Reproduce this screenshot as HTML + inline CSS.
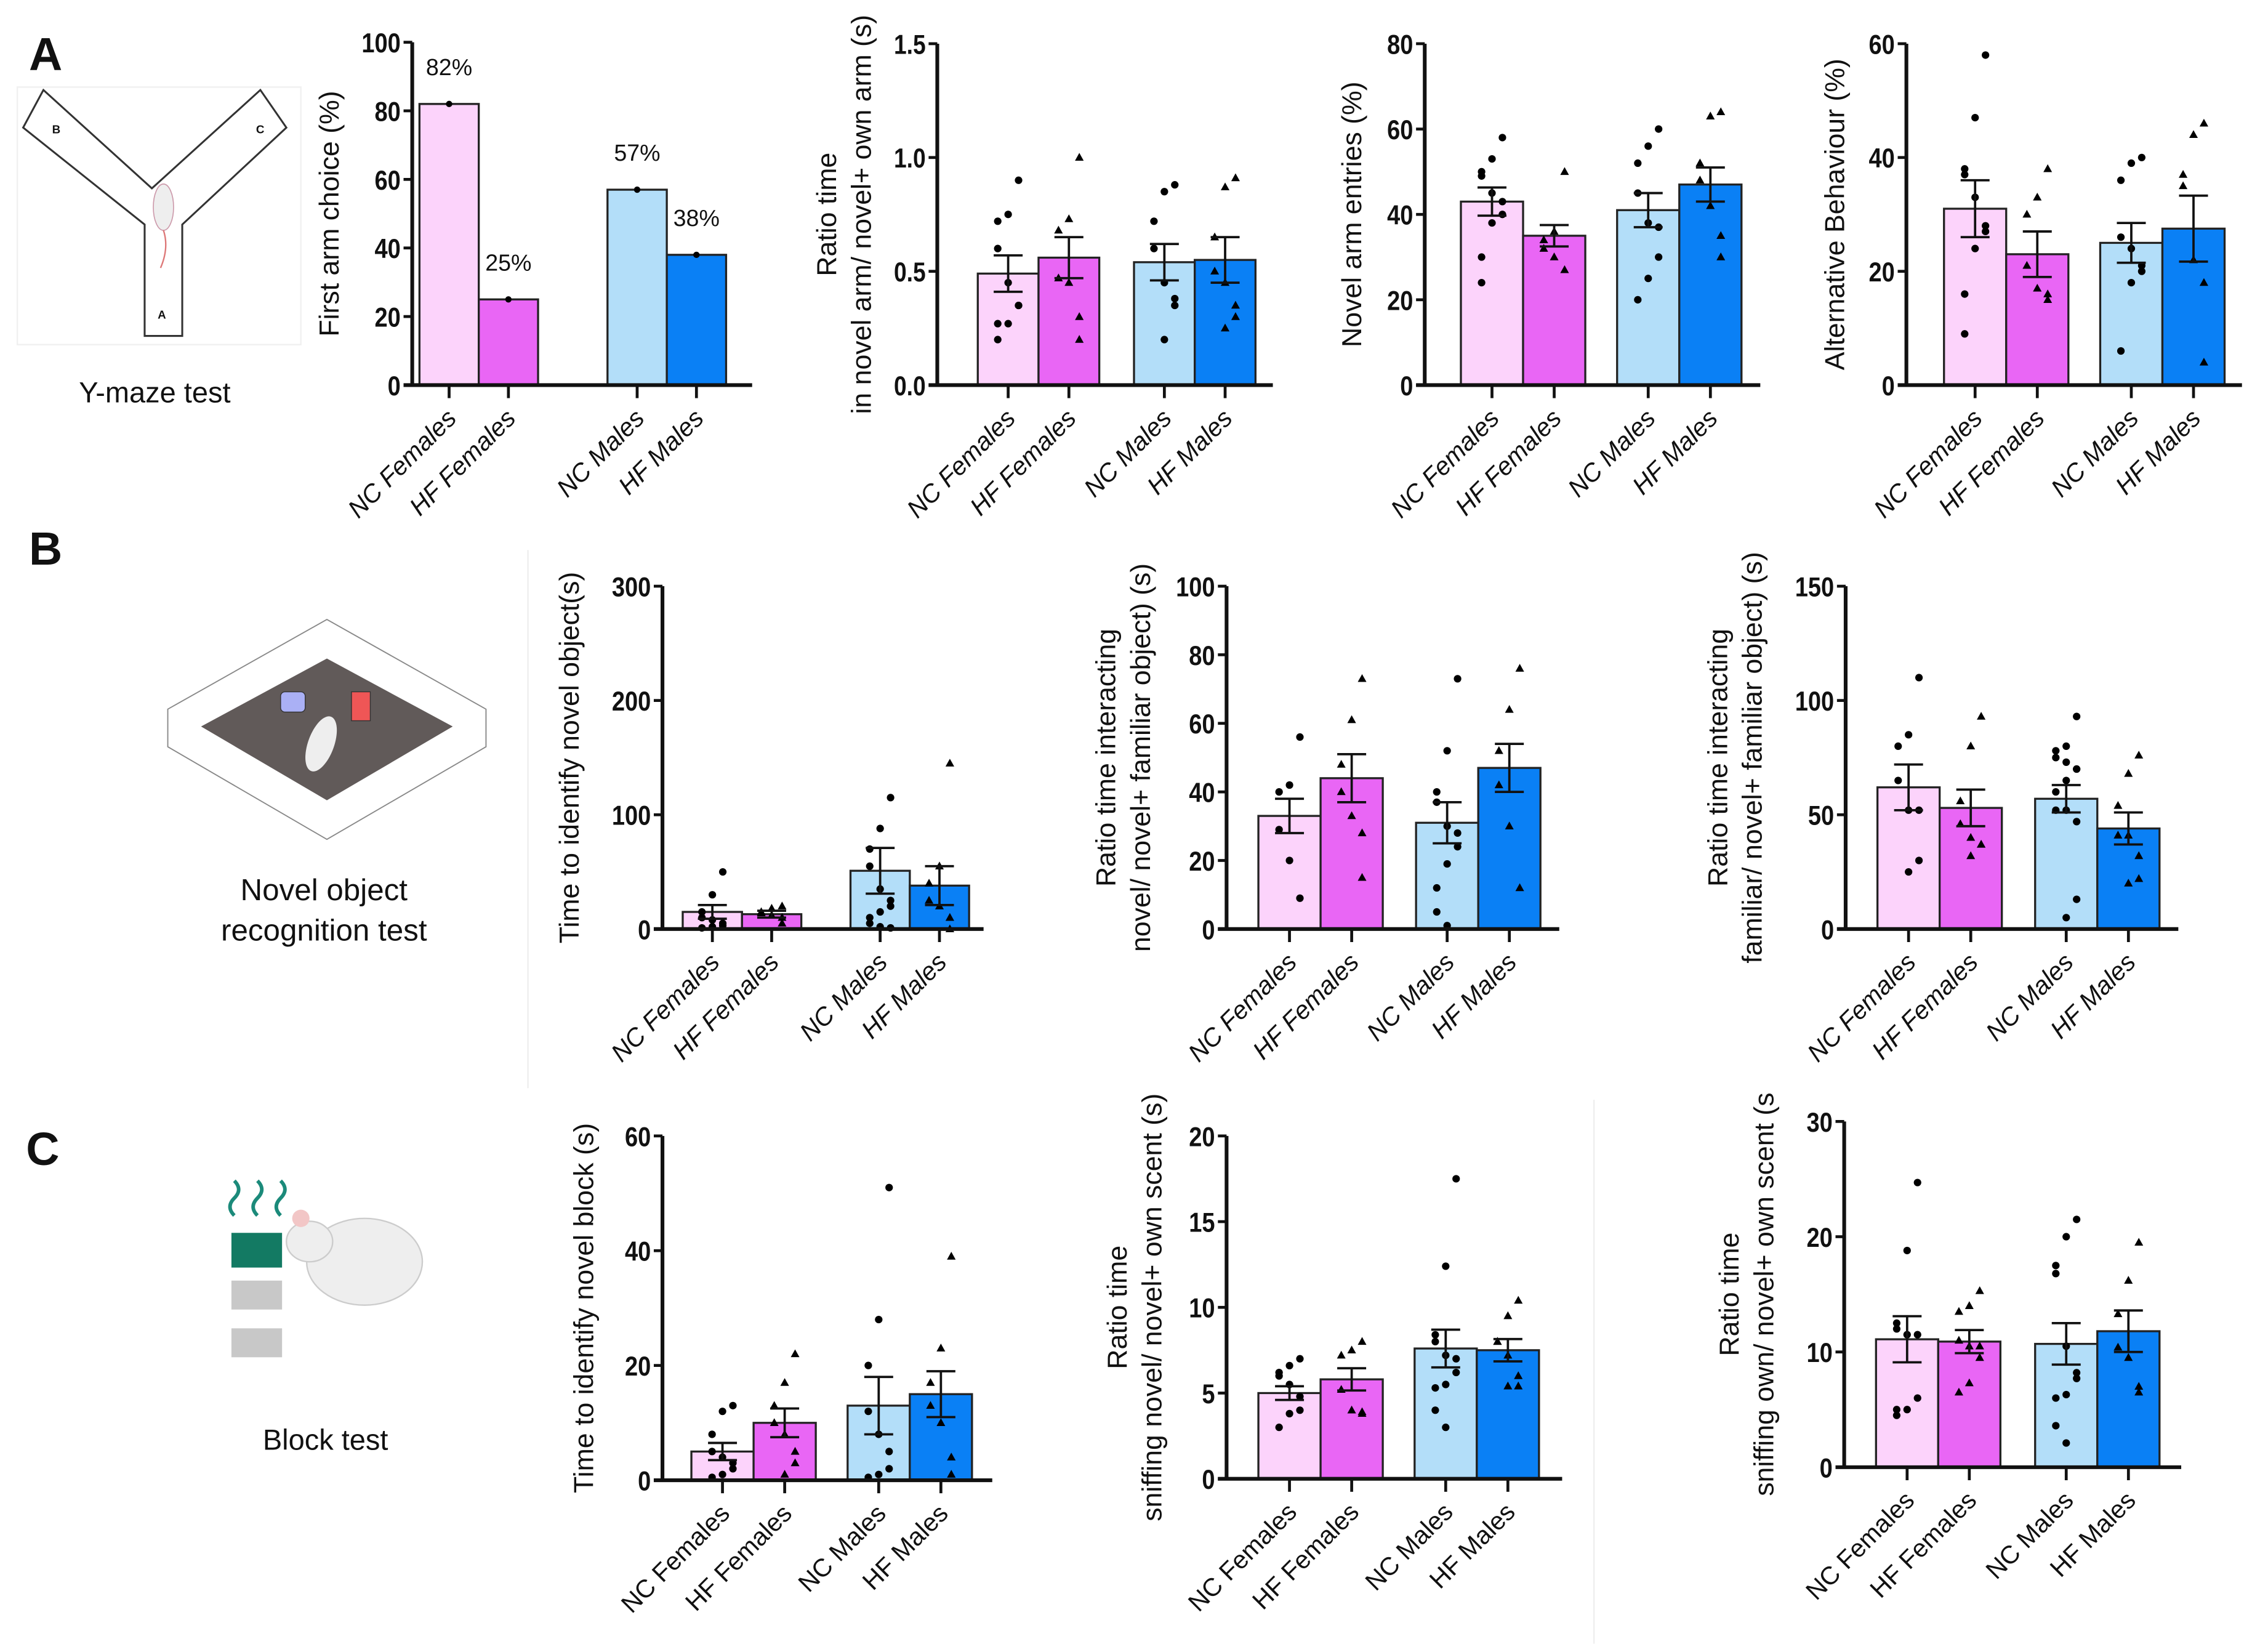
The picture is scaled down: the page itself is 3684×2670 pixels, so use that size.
<!DOCTYPE html>
<html><head><meta charset="utf-8"><style>
html,body{margin:0;padding:0;background:#fff}
svg{display:block}
text{font-family:"Liberation Sans",sans-serif;fill:#111}
.tick{font-weight:bold;font-size:19px}
.cat{font-size:17.5px}
.ttl{font-size:19px}
</style></head><body>
<svg id="fig" width="3684" height="2670" viewBox="0 0 1568 1136" xmlns="http://www.w3.org/2000/svg">
<g>
<text x="20" y="48" style="font-size:32px;font-weight:bold">A</text>
<text x="20" y="390" style="font-size:32px;font-weight:bold">B</text>
<text x="18" y="805" style="font-size:32px;font-weight:bold">C</text>
</g>
<g>
<rect x="12" y="60" width="196" height="178" fill="#fff" stroke="#f0f0f0"/>
<polygon points="30,62 105,130 180,62 198,88 126,155 126,232 100,232 100,155 16,88" fill="#fff" stroke="#333" stroke-width="1.3"/>
<text x="36" y="92" style="font-size:8px;font-weight:bold">B</text>
<text x="177" y="92" style="font-size:8px;font-weight:bold">C</text>
<text x="109" y="220" style="font-size:8px;font-weight:bold">A</text>
<ellipse cx="113" cy="143" rx="7" ry="16" fill="#eee" stroke="#c9a" stroke-width="0.7"/>
<path d="M113,159 q4,12 -2,26" stroke="#d77" fill="none"/>
<text x="107" y="278" text-anchor="middle" style="font-size:20px">Y-maze test</text>
</g>
<g>
<line x1="365" y1="380" x2="365" y2="752" stroke="#eee"/>
<polygon points="226,428 336,490 336,516 226,580 116,516 116,490" fill="#fff" stroke="#888" stroke-width="0.8"/>
<polygon points="226,455 313,502 226,553 139,502" fill="#615a59"/>
<rect x="194" y="478" width="17" height="14" rx="3" fill="#aab0f5" stroke="#333" stroke-width="0.6"/>
<rect x="243" y="478" width="13" height="20" fill="#ef5656" stroke="#333" stroke-width="0.6"/>
<ellipse cx="222" cy="514" rx="9" ry="20" fill="#eee" transform="rotate(20 222 514)"/>
<text x="224" y="622" text-anchor="middle" style="font-size:21px">Novel object</text>
<text x="224" y="650" text-anchor="middle" style="font-size:21px">recognition test</text>
</g>
<g>
<path d="M162,840 q-6,-6 0,-12 q6,-6 0,-12 M178,840 q-6,-6 0,-12 q6,-6 0,-12 M194,840 q-6,-6 0,-12 q6,-6 0,-12" stroke="#1b8a7a" stroke-width="2.5" fill="none"/>
<rect x="160" y="852" width="35" height="24" fill="#137a63"/>
<rect x="160" y="885" width="35" height="20" fill="#c8c8c8"/>
<rect x="160" y="918" width="35" height="20" fill="#c8c8c8"/>
<ellipse cx="252" cy="872" rx="40" ry="30" fill="#eee" stroke="#ccc"/>
<ellipse cx="214" cy="858" rx="16" ry="14" fill="#eee" stroke="#ccc"/>
<circle cx="208" cy="842" r="6" fill="#f2c6c6"/>
<text x="225" y="1002" text-anchor="middle" style="font-size:20px">Block test</text>
</g>
<line x1="1102" y1="760" x2="1102" y2="1136" stroke="#eee"/>
<g id="charts"></g>
</svg>
<script>
// ---- data ----
const categories = ["NC Females","HF Females","NC Males","HF Males"];
const colors = ["#fcd3fb","#e966f5","#b3def9","#0a80f5"];

const a1Means = [82,25,57,38];
const a1Labels = ["82%","25%","57%","38%"];

const a2Means = [0.49,0.56,0.54,0.55];
const a2Sem = [0.08,0.09,0.08,0.10];
const a2Pts = [[0.9,0.75,0.72,0.6,0.45,0.35,0.35,0.27,0.27,0.2],[1.0,0.73,0.68,0.47,0.45,0.3,0.2],[0.88,0.85,0.72,0.6,0.45,0.38,0.35,0.2],[0.91,0.87,0.65,0.5,0.45,0.35,0.3,0.25]];

const a3Means = [43,35,41,47];
const a3Sem = [3.3,2.5,4,4];
const a3Pts = [[58,53,50,49,45,43,40,38,30,24],[50,36,34,32,30,27],[60,56,52,45,38,37,30,25,20],[64,63,52,48,42,35,30]];

const a4Means = [31,23,25,27.5];
const a4Sem = [5,4,3.5,5.8];
const a4Pts = [[58,47,38,37,33,28,27,24,16,9],[38,33,30,21,17,16,15],[40,39,36,26,24,21,20,18,6],[46,44,37,35,22,18,4]];

const b1Means = [15,13,51,38];
const b1Sem = [6,3,20,17];
const b1Pts = [[50,30,15,10,8,5,3,2,1],[20,18,15,14,12,10,5],[115,88,70,55,35,25,20,15,10,5,2,1],[145,55,40,25,20,10,0]];

const b2Means = [33,44,31,47];
const b2Sem = [5,7,6,7];
const b2Pts = [[56,42,40,29,20,9],[73,61,48,40,33,28,15],[73,52,40,37,30,28,24,19,12,5,1],[76,64,52,42,30,12]];

const b3Means = [62,53,57,44];
const b3Sem = [10,8,6,7];
const b3Pts = [[110,85,80,65,52,52,30,25],[93,80,56,46,40,37,37,32],[93,80,78,75,73,70,70,65,60,52,52,47,13,5],[76,68,54,41,41,32,22,20]];

const c1Means = [5,10,13,15];
const c1Sem = [1.5,2.5,5,4];
const c1Pts = [[13,12,8,5,4,3,2,1,0.5],[22,17,13,10,8,5,3,1],[51,28,20,12,8,5,2,1,0.5],[39,23,17,13,10,4,1]];

const c2Means = [5,5.8,7.6,7.5];
const c2Sem = [0.4,0.65,1.1,0.65];
const c2Pts = [[7,6.6,6.2,6,5.5,4.8,4,3.8,3],[8,7.5,7.2,5.2,4,3.9,3.8],[17.5,12.4,8.4,8,7.2,7,6.2,5.5,5.3,4,3],[10.4,9.5,8,8,7.2,6,5.4,5.4]];

const c3Means = [11.1,10.9,10.7,11.8];
const c3Sem = [2,1,1.8,1.8];
const c3Pts = [[24.7,18.8,12.5,12,11.5,11.5,6,5,5,4.5],[15.3,14,13.5,11,10.5,10.5,9.5,7.3,6.5],[21.5,20,17.5,16.8,10.5,8.2,7.7,6.3,6,3.6,2.1],[19.5,16.2,13.3,10.4,9.5,7,6.5]];

const yTicksA1=[0,20,40,60,80,100], yTicksA2=["0.0","0.5","1.0","1.5"], yTicksA3=[0,20,40,60,80], yTicksA4=[0,20,40,60];
const yTicksB1=[0,100,200,300], yTicksB2=[0,20,40,60,80,100], yTicksB3=[0,50,100,150];
const yTicksC1=[0,20,40,60], yTicksC2=[0,5,10,15,20], yTicksC3=[0,10,20,30];

const NS="http://www.w3.org/2000/svg";
const root=document.getElementById('charts');
function mk(tag,attrs,parent){const e=document.createElementNS(NS,tag);for(const k in attrs)e.setAttribute(k,attrs[k]);(parent||root).appendChild(e);return e;}

function chart(name,L,means,sem,pts,ticks,titles,italic,labels){
  const g=mk('g',{});
  
  
  const ymax=parseFloat(ticks[ticks.length-1]);
  const y=v=>L.y0-(v/ymax)*(L.y0-L.yt);
  const bw=L.bw, xs=[L.bx,L.bx+bw,L.bx+2*bw+L.gap,L.bx+3*bw+L.gap];
  means.forEach((m,i)=>{
    const r=mk('rect',{x:xs[i],y:y(m),width:bw,height:L.y0-y(m),fill:colors[i],stroke:'#222','stroke-width':1.4},g);
    
    
  });
  if(pts){pts.forEach((arr,i)=>{
    const cx=xs[i]+bw/2;
    arr.forEach((v,j)=>{
      const off=((j%3)-1)*8*(j%2?1:-1)*0.9;
      const px=cx+off, py=y(v);
      let p;
      if(i%2===0){p=mk('circle',{cx:px,cy:py,r:2.6,fill:'#000'},g);}
      else{p=mk('polygon',{points:`${px},${py-3.2} ${px-3},${py+2.2} ${px+3},${py+2.2}`,fill:'#000'},g);}
      
      
    });
  });}
  if(sem){sem.forEach((s,i)=>{
    const cx=xs[i]+bw/2;
    const e=mk('path',{d:`M${cx},${y(means[i]-s)}V${y(means[i]+s)}M${cx-10},${y(means[i]+s)}h20M${cx-10},${y(means[i]-s)}h20`,stroke:'#111','stroke-width':1.6,fill:'none'},g);
    
    
  });}
  if(labels){means.forEach((m,i)=>{
    const d=mk('circle',{cx:xs[i]+bw/2,cy:y(m),r:2.2,fill:'#000'},g);
    
    
    const t=mk('text',{x:xs[i]+bw/2,y:y(m)-20,'text-anchor':'middle',style:'font-size:16px'},g);
    t.textContent=labels[i];
    
    
  });}
  const ax=mk('path',{d:`M${L.ax},${L.yt}V${L.y0}M${L.ax-6},${L.y0}H${L.xe}`,stroke:'#111','stroke-width':2.6,fill:'none'},g);
  
  
  ticks.forEach(tv=>{
    const v=parseFloat(tv);
    mk('line',{x1:L.ax-6,x2:L.ax,y1:y(v),y2:y(v),stroke:'#111','stroke-width':2},g);
    const s=String(tv);
    const w=s.replace('.','').length*9+(s.includes('.')?4:0);
    const t=mk('text',{x:L.ax-8,y:y(v)+7,'text-anchor':'end',class:'tick',textLength:w,lengthAdjust:'spacingAndGlyphs'},g);
    t.textContent=tv;
    
    
  });
  xs.forEach((x,i)=>{
    const cx=x+bw/2;
    mk('line',{x1:cx,x2:cx,y1:L.y0,y2:L.y0+9,stroke:'#111','stroke-width':2},g);
    const t=mk('text',{x:cx+6,y:L.y0+24,'text-anchor':'end',class:'cat',transform:`rotate(-45 ${cx+6} ${L.y0+24})`,style:italic?'font-style:italic':''},g);
    t.textContent=categories[i];
    
    
  });
  const cy=(L.y0+L.yt)/2;
  titles.forEach((tt,k)=>{
    const tx=L.tx+k*24;
    const t=mk('text',{x:tx,y:cy,'text-anchor':'middle',class:'ttl',transform:`rotate(-90 ${tx} ${cy})`},g);
    t.textContent=tt;
    
    
  });
}

chart('chart-first-arm-choice',{ax:285,y0:266,yt:29,bx:290,bw:41,gap:48,xe:520,tx:234},a1Means,null,null,yTicksA1,["First arm choice (%)"],true,a1Labels);
chart('chart-ratio-novel-arm',{ax:648,y0:266,yt:30,bx:676,bw:42,gap:24,xe:880,tx:578},a2Means,a2Sem,a2Pts,yTicksA2,["Ratio time","in novel arm/ novel+ own arm (s)"],true);
chart('chart-novel-arm-entries',{ax:985,y0:266,yt:30,bx:1010,bw:43,gap:22,xe:1217,tx:941},a3Means,a3Sem,a3Pts,yTicksA3,["Novel arm entries (%)"],true);
chart('chart-alternative-behaviour',{ax:1318,y0:266,yt:30,bx:1344,bw:43,gap:22,xe:1550,tx:1275},a4Means,a4Sem,a4Pts,yTicksA4,["Alternative Behaviour (%)"],true);

chart('chart-time-novel-object',{ax:458,y0:642,yt:405,bx:472,bw:41,gap:34,xe:680,tx:400},b1Means,b1Sem,b1Pts,yTicksB1,["Time to identify novel object(s)"],true);
chart('chart-ratio-novel-object',{ax:848,y0:642,yt:405,bx:870,bw:43,gap:23,xe:1078,tx:771},b2Means,b2Sem,b2Pts,yTicksB2,["Ratio time interacting","novel/ novel+ familiar object) (s)"],true);
chart('chart-ratio-familiar-object',{ax:1276,y0:642,yt:405,bx:1298,bw:43,gap:23,xe:1506,tx:1194},b3Means,b3Sem,b3Pts,yTicksB3,["Ratio time interacting","familiar/ novel+ familiar object) (s)"],true);

chart('chart-time-novel-block',{ax:458,y0:1023,yt:785,bx:478,bw:43,gap:22,xe:686,tx:410},c1Means,c1Sem,c1Pts,yTicksC1,["Time to identify novel block (s)"],false);
chart('chart-ratio-novel-scent',{ax:848,y0:1022,yt:785,bx:870,bw:43,gap:22,xe:1080,tx:779},c2Means,c2Sem,c2Pts,yTicksC2,["Ratio time","sniffing novel/ novel+ own scent (s)"],false);
chart('chart-ratio-own-scent',{ax:1275,y0:1014,yt:775,bx:1297,bw:43,gap:24,xe:1508,tx:1202},c3Means,c3Sem,c3Pts,yTicksC3,["Ratio time","sniffing own/ novel+ own scent (s"],false);
</script>
</body></html>
